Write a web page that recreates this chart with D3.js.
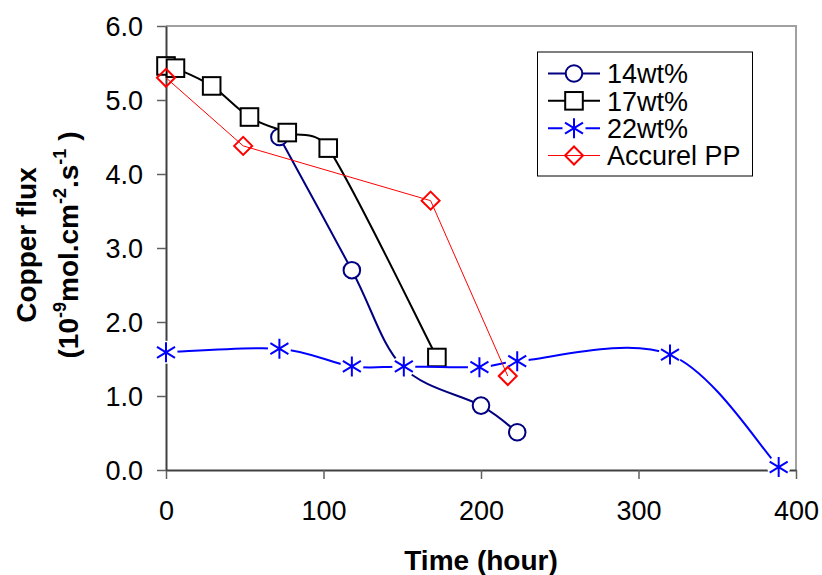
<!DOCTYPE html>
<html>
<head>
<meta charset="utf-8">
<script src="https://cdn.jsdelivr.net/npm/d3@7"></script>
<style>
  html, body { margin: 0; padding: 0; background: #fff; }
  svg { display: block; font-family: Arial, "Liberation Sans", sans-serif; }
</style>
</head>
<body>
<svg id="chart" width="822" height="575"></svg>
<script>
// Copper flux through membranes over time
const xTicks = [0, 100, 200, 300, 400];
const yTicks = [0, 1, 2, 3, 4, 5, 6];

const time14 = [72, 118, 150, 200, 223];
const flux14 = [4.50, 2.70, 1.40, 0.87, 0.51];

const time17 = [0, 6, 29, 53, 77, 103, 172];
const flux17 = [5.46, 5.43, 5.19, 4.77, 4.56, 4.35, 1.52];

const time22 = [0, 72, 118, 151, 199, 223, 320, 389];
const flux22 = [1.59, 1.64, 1.40, 1.40, 1.39, 1.47, 1.56, 0.04];

const timePP = [0, 49, 168, 217];
const fluxPP = [5.30, 4.38, 3.64, 1.27];

const seriesNames = ["14wt%", "17wt%", "22wt%", "Accurel PP"];

const svg = d3.select("#chart");
const plot = { left: 166, right: 796, top: 26, bottom: 470 };

const x = d3.scaleLinear().domain([0, 400]).range([plot.left, plot.right]);
const y = d3.scaleLinear().domain([0, 6]).range([plot.bottom, plot.top]);

const zip = (ts, vs) => ts.map((t, i) => ({ t, v: vs[i] }));

const series = [
  { name: seriesNames[0], data: zip(time14, flux14), color: "#000080", width: 2, smooth: true, marker: "circle" },
  { name: seriesNames[1], data: zip(time17, flux17), color: "#000000", width: 2, smooth: true, marker: "square" },
  { name: seriesNames[2], data: zip(time22, flux22), color: "#0000FF", width: 2, smooth: true, marker: "star" },
  { name: seriesNames[3], data: zip(timePP, fluxPP), color: "#FF0000", width: 1, smooth: false, marker: "diamond" }
];

// Smoothed polyline: Catmull-Rom style Bezier segments whose control arms
// are capped at half the segment length, so short steps do not overshoot.
function smoothPath(pts) {
  const p = d3.path();
  p.moveTo(pts[0][0], pts[0][1]);
  const cap = (vx, vy, maxLen) => {
    const len = Math.hypot(vx, vy);
    const k = len > maxLen && len > 0 ? maxLen / len : 1;
    return [vx * k, vy * k];
  };
  for (let i = 0; i < pts.length - 1; i++) {
    const p0 = pts[i - 1] || pts[i];
    const p1 = pts[i];
    const p2 = pts[i + 1];
    const p3 = pts[i + 2] || pts[i + 1];
    const segLen = Math.hypot(p2[0] - p1[0], p2[1] - p1[1]);
    const a1 = cap((p2[0] - p0[0]) / 6, (p2[1] - p0[1]) / 6, segLen * 0.5);
    const a2 = cap((p3[0] - p1[0]) / 6, (p3[1] - p1[1]) / 6, segLen * 0.5);
    p.bezierCurveTo(p1[0] + a1[0], p1[1] + a1[1], p2[0] - a2[0], p2[1] - a2[1], p2[0], p2[1]);
  }
  return p.toString();
}

// Plot frame: light grey top/right, dark axes left/bottom
svg.append("path")
  .attr("d", `M${plot.left},${plot.top}H${plot.right}V${plot.bottom}`)
  .attr("fill", "none").attr("stroke", "#a0a0a0").attr("stroke-width", 2);

const xAxis = d3.axisBottom(x).tickValues(xTicks).tickSize(9).tickSizeOuter(0).tickPadding(22);
const yAxis = d3.axisLeft(y).tickValues(yTicks).tickSize(9).tickSizeOuter(0).tickPadding(14)
  .tickFormat(d3.format(".1f"));

const gx = svg.append("g").attr("transform", `translate(0,${plot.bottom})`).call(xAxis);
const gy = svg.append("g").attr("transform", `translate(${plot.left},0)`).call(yAxis);
[gx, gy].forEach(g => {
  g.select(".domain").attr("stroke", "#404040").attr("stroke-width", 2);
  g.selectAll(".tick line").attr("stroke", "#606060").attr("stroke-width", 1.5);
  g.selectAll(".tick text").attr("fill", "#000").attr("font-size", 27)
    .attr("font-family", "Arial, 'Liberation Sans', sans-serif");
});
gx.selectAll(".tick text").attr("dy", "0.71em");
gy.selectAll(".tick text").attr("dy", "0.36em");

// Marker drawing
function drawMarker(g, type, color) {
  if (type === "circle") {
    g.append("circle").attr("r", 8.3).attr("fill", "#fff").attr("stroke", color).attr("stroke-width", 2);
  } else if (type === "square") {
    g.append("rect").attr("x", -8.8).attr("y", -8.8).attr("width", 17.6).attr("height", 17.6)
      .attr("fill", "#fff").attr("stroke", color).attr("stroke-width", 2);
  } else if (type === "star") {
    g.append("circle").attr("r", 11.5).attr("fill", "#fff");
    g.append("path").attr("d", "M0,-10V10M-9,-5.5L9,5.5M-9,5.5L9,-5.5")
      .attr("stroke", color).attr("stroke-width", 2).attr("fill", "none");
  } else if (type === "diamond") {
    g.append("path").attr("d", "M0,-9L9,0L0,9L-9,0Z")
      .attr("fill", "none").attr("stroke", color).attr("stroke-width", 2);
  }
}

const plotG = svg.append("g");
series.forEach(s => {
  const pts = s.data.map(d => [x(d.t), y(d.v)]);
  const d = s.smooth ? smoothPath(pts) : d3.line()(pts);
  plotG.append("path").attr("d", d)
    .attr("fill", "none").attr("stroke", s.color).attr("stroke-width", s.width);
  plotG.selectAll(null).data(s.data).enter().append("g")
    .attr("transform", d => `translate(${x(d.t)},${y(d.v)})`)
    .each(function () { drawMarker(d3.select(this), s.marker, s.color); });
});

// Legend
const legend = svg.append("g");
legend.append("rect").attr("x", 537.5).attr("y", 52).attr("width", 215).attr("height", 124)
  .attr("fill", "#fff").attr("stroke", "#000").attr("stroke-width", 1);
const rowY = d3.scalePoint().domain(seriesNames).range([73.5, 155.5]);
series.forEach(s => {
  const cy = rowY(s.name);
  const row = legend.append("g");
  row.append("line").attr("x1", 548).attr("x2", 600).attr("y1", cy).attr("y2", cy)
    .attr("stroke", s.color).attr("stroke-width", s.width);
  drawMarker(row.append("g").attr("transform", `translate(574,${cy})`), s.marker, s.color);
  row.append("text").attr("x", 607).attr("y", cy).attr("dy", "0.36em")
    .attr("font-size", 27).attr("fill", "#000").text(s.name);
});

// Axis titles
svg.append("text").attr("x", (plot.left + plot.right) / 2).attr("y", 570)
  .attr("text-anchor", "middle").attr("font-size", 28).attr("font-weight", "bold")
  .text("Time (hour)");

const yTitle = svg.append("g").attr("transform", "translate(0,245) rotate(-90)");
yTitle.append("text").attr("x", 0).attr("y", 36).attr("text-anchor", "middle")
  .attr("font-size", 28).attr("font-weight", "bold").text("Copper flux");
const unit = yTitle.append("text").attr("x", 0).attr("y", 78).attr("text-anchor", "middle")
  .attr("font-size", 28).attr("font-weight", "bold");
unit.append("tspan").text("(10");
unit.append("tspan").attr("dy", -12).attr("font-size", 18).text("-9");
unit.append("tspan").attr("dy", 12).text("mol.cm");
unit.append("tspan").attr("dy", -12).attr("font-size", 18).text("-2");
unit.append("tspan").attr("dy", 12).text(".s");
unit.append("tspan").attr("dy", -12).attr("font-size", 18).text("-1");
unit.append("tspan").attr("dy", 12).text(" )");
</script>
</body>
</html>
